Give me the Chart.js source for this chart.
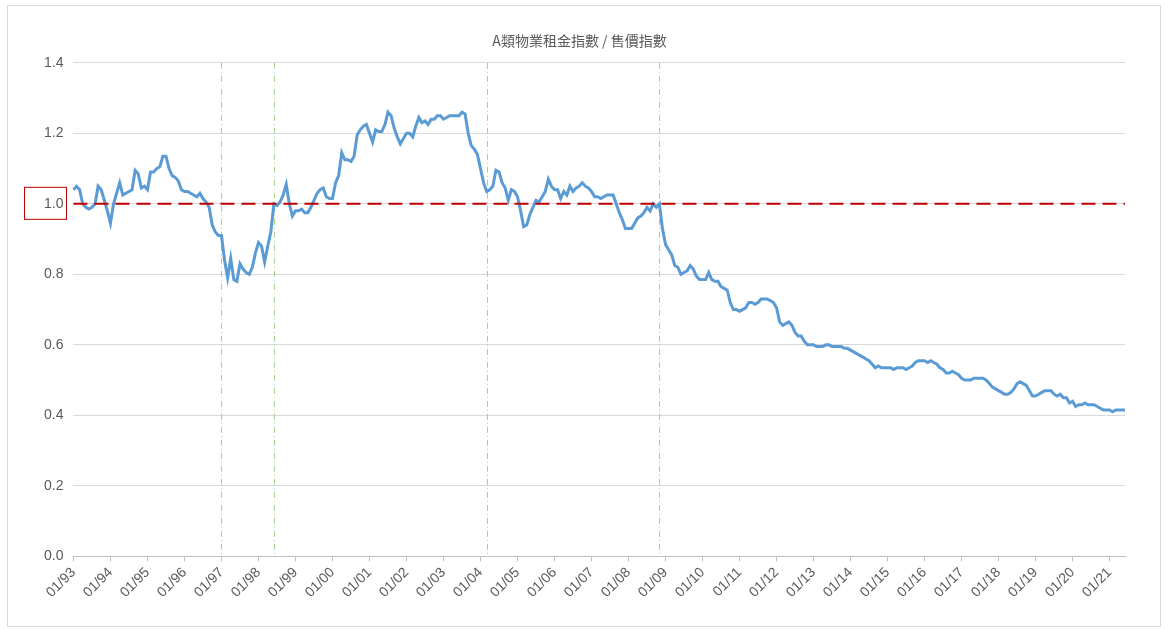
<!DOCTYPE html>
<html><head><meta charset="utf-8">
<script src="https://cdn.jsdelivr.net/npm/chart.js@4"></script>
<style>html,body{margin:0;background:#fff}#w{position:absolute;left:7px;top:5px;width:1154px;height:622px;border:1px solid #d9d9d9;box-sizing:border-box}</style>
</head><body><div id="w"><canvas id="c"></canvas></div>
<script>
const title = "A類物業租金指數 / 售價指數";
const startYear = 1993;
const v1993=[1.04,1.05,1.04,1.00,0.99,0.985,0.99,1.00,1.05,1.04,1.01,0.98];
const v1994=[0.945,1.00,1.03,1.06,1.025,1.03,1.035,1.04,1.095,1.085,1.045,1.05];
const v1995=[1.04,1.09,1.09,1.10,1.105,1.135,1.135,1.10,1.08,1.075,1.065,1.04];
const v1996=[1.035,1.035,1.03,1.025,1.02,1.03,1.015,1.005,0.99,0.94,0.92,0.91];
const v1997=[0.91,0.84,0.79,0.845,0.785,0.78,0.83,0.815,0.805,0.80,0.82,0.86];
const v1998=[0.89,0.88,0.835,0.88,0.92,1.0,0.995,1.005,1.025,1.055,1.0,0.965];
const v1999=[0.98,0.98,0.985,0.975,0.975,0.99,1.01,1.03,1.04,1.045,1.02,1.015];
const v2000=[1.015,1.06,1.08,1.145,1.125,1.125,1.12,1.135,1.195,1.21,1.22,1.225];
const v2001=[1.20,1.175,1.21,1.205,1.205,1.225,1.26,1.25,1.215,1.19,1.17,1.185];
const v2002=[1.20,1.20,1.19,1.22,1.245,1.23,1.235,1.225,1.24,1.24,1.25,1.25];
const v2003=[1.24,1.245,1.25,1.25,1.25,1.25,1.26,1.255,1.20,1.165,1.155,1.14];
const v2004=[1.10,1.06,1.035,1.04,1.05,1.095,1.09,1.06,1.045,1.01,1.04,1.035];
const v2005=[1.02,0.98,0.935,0.94,0.97,0.99,1.01,1.005,1.02,1.035,1.07,1.05];
const v2006=[1.04,1.04,1.015,1.035,1.025,1.05,1.035,1.045,1.05,1.06,1.05,1.045];
const v2007=[1.035,1.02,1.02,1.015,1.02,1.025,1.025,1.025,1.0,0.975,0.955,0.93];
const v2008=[0.93,0.93,0.945,0.96,0.965,0.975,0.99,0.98,1.0,0.99,1.0,0.93];
const v2009=[0.885,0.87,0.855,0.825,0.82,0.80,0.805,0.81,0.825,0.815,0.795,0.785];
const v2010=[0.785,0.785,0.805,0.785,0.78,0.78,0.765,0.76,0.755,0.72,0.70,0.70];
const v2011=[0.695,0.70,0.705,0.72,0.72,0.715,0.72,0.73,0.73,0.73,0.725,0.72];
const v2012=[0.705,0.665,0.655,0.66,0.665,0.655,0.635,0.625,0.625,0.61,0.60,0.60];
const v2013=[0.60,0.595,0.595,0.595,0.60,0.60,0.595,0.595,0.595,0.595,0.59,0.59];
const v2014=[0.585,0.58,0.575,0.57,0.565,0.56,0.555,0.545,0.535,0.54,0.535,0.535];
const v2015=[0.535,0.535,0.53,0.535,0.535,0.535,0.53,0.535,0.54,0.55,0.555,0.555];
const v2016=[0.555,0.55,0.555,0.55,0.545,0.535,0.53,0.52,0.52,0.525,0.52,0.515];
const v2017=[0.505,0.50,0.50,0.50,0.505,0.505,0.505,0.505,0.50,0.49,0.48,0.475];
const v2018=[0.47,0.465,0.46,0.46,0.465,0.475,0.49,0.495,0.49,0.485,0.47,0.455];
const v2019=[0.455,0.46,0.465,0.47,0.47,0.47,0.46,0.455,0.46,0.45,0.45,0.435];
const v2020=[0.44,0.425,0.43,0.43,0.435,0.43,0.43,0.43,0.425,0.42,0.415,0.415];
const v2021=[0.415,0.41,0.415,0.415,0.415,0.415];
const markerMonths=["01/97","06/98","03/04","11/08"];
const refValue=1.0;

const values=[].concat(v1993,v1994,v1995,v1996,v1997,v1998,v1999,v2000,v2001,v2002,v2003,v2004,v2005,v2006,v2007,v2008,v2009,v2010,v2011,v2012,v2013,v2014,v2015,v2016,v2017,v2018,v2019,v2020,v2021);
const labels=values.map((_,i)=>{const m=i%12+1,y=(startYear+Math.floor(i/12))%100;return String(m).padStart(2,'0')+'/'+String(y).padStart(2,'0');});

const overlay={id:'ov',
 beforeDatasetsDraw(ch){const {ctx,chartArea:a,scales:{x,y}}=ch;ctx.save();
  ctx.strokeStyle='#a9d18e';ctx.lineWidth=1;ctx.setLineDash([6,3,1,3]);
  markerMonths.forEach(l=>{const px=Math.round(x.getPixelForValue(labels.indexOf(l)))+0.5;ctx.beginPath();ctx.moveTo(px,a.top);ctx.lineTo(px,a.bottom);ctx.stroke();});
  ctx.restore();},
 afterDatasetsDraw(ch){const {ctx,chartArea:a,scales:{y}}=ch;ctx.save();
  const py=y.getPixelForValue(refValue);ctx.strokeStyle='#c00000';ctx.lineWidth=2;ctx.setLineDash([14,7]);
  ctx.beginPath();ctx.moveTo(a.left,py);ctx.lineTo(a.right,py);ctx.stroke();
  ctx.setLineDash([]);ctx.lineWidth=1;ctx.strokeRect(16.5,py-16.5,42,32);ctx.restore();}
};

new Chart(document.getElementById('c'),{type:'line',
 data:{labels,datasets:[{data:values,borderColor:'#5b9bd5',borderWidth:3,pointRadius:0,tension:0,fill:false}]},
 options:{responsive:true,maintainAspectRatio:false,animation:false,
  layout:{padding:{left:26,right:35,top:26,bottom:22}},
  plugins:{legend:{display:false},tooltip:{enabled:false},
   title:{display:true,text:title,color:'#595959',font:{family:'Noto Sans CJK TC',size:14,weight:'normal'},padding:{top:0,bottom:14}}},
  scales:{
   x:{offset:false,grid:{display:true,drawOnChartArea:false,drawTicks:true,tickLength:5,color:'#bfbfbf'},border:{color:'#bfbfbf'},
      ticks:{autoSkip:false,maxRotation:45,minRotation:45,color:'#595959',font:{family:'Liberation Sans',size:14},
       callback:(v,i)=>labels[i].startsWith('01/')?labels[i]:null}},
   y:{min:0,max:1.4,ticks:{stepSize:0.2,color:'#595959',font:{family:'Liberation Sans',size:14},padding:10,callback:v=>v.toFixed(1)},
      grid:{color:'#d9d9d9',drawTicks:false},border:{display:false}}}},
 plugins:[overlay]});
</script></body></html>
